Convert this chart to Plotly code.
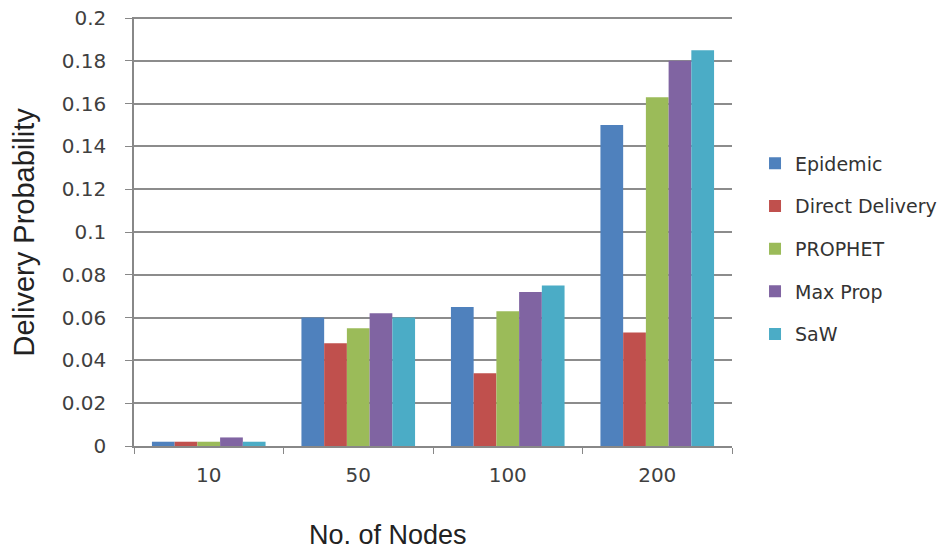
import plotly.graph_objects as go

categories = ["10", "50", "100", "200"]
series_names = ["Epidemic", "Direct Delivery", "PROPHET", "Max Prop", "SaW"]
epidemic = [0.002, 0.060, 0.065, 0.150]
direct_delivery = [0.002, 0.048, 0.034, 0.053]
prophet = [0.002, 0.055, 0.063, 0.163]
max_prop = [0.004, 0.062, 0.072, 0.180]
saw = [0.002, 0.060, 0.075, 0.185]
y_ticks = [0, 0.02, 0.04, 0.06, 0.08, 0.1, 0.12, 0.14, 0.16, 0.18, 0.2]
y_tick_labels = ["0", "0.02", "0.04", "0.06", "0.08", "0.1", "0.12", "0.14", "0.16", "0.18", "0.2"]

colors = ["#4F81BD", "#C0504D", "#9BBB59", "#8064A2", "#4BACC6"]
values = [epidemic, direct_delivery, prophet, max_prop, saw]

fig = go.Figure()
for i, (name, vals) in enumerate(zip(series_names, values)):
    fig.add_trace(go.Bar(
        x=categories, y=vals, name=name,
        marker=dict(color=colors[i], line=dict(width=0)),
        legendgroup=f"g{i}",
    ))

fig.update_layout(
    width=952, height=552,
    margin=dict(l=126, r=228, t=9, b=114, autoexpand=False),
    paper_bgcolor="white", plot_bgcolor="white",
    barmode="group", bargap=0.24, bargroupgap=0,
    font=dict(family="DejaVu Sans", color="#404040"),
    showlegend=True,
    legend=dict(
        x=1.0385, y=0.703, xanchor="left", yanchor="top",
        font=dict(family="DejaVu Sans", size=19, color="#333333"),
        tracegroupgap=15, itemwidth=30,
        bgcolor="rgba(0,0,0,0)",
    ),
    xaxis=dict(
        type="category", automargin=False,
        tickfont=dict(family="DejaVu Sans", size=20, color="#404040"),
        ticks="outside", tickson="boundaries", ticklen=6, tickcolor="#888888",
        ticklabelstandoff=10,
        showline=True, linecolor="#888888", linewidth=1.5,
    ),
    yaxis=dict(
        range=[0, 0.2005], automargin=False,
        tickvals=y_ticks, ticktext=y_tick_labels,
        tickfont=dict(family="DejaVu Sans", size=20, color="#404040"),
        ticks="outside", ticklen=7, tickcolor="#888888",
        ticklabelstandoff=15, ticklabeloverflow="allow",
        showgrid=True, gridcolor="#8c8c8c", gridwidth=1.6,
        showline=True, linecolor="#888888", linewidth=1.5,
        zeroline=False,
    ),
    annotations=[
        dict(text="No. of Nodes", xref="paper", yref="paper", x=0.4247, y=-0.208,
             xanchor="center", yanchor="middle", showarrow=False,
             font=dict(family="Liberation Sans", size=27, color="#222222")),
        dict(text="Delivery Probability", xref="paper", yref="paper", x=-0.184, y=0.5,
             xanchor="center", yanchor="middle", textangle=-90, showarrow=False,
             font=dict(family="Liberation Sans", size=29, color="#222222")),
    ],
)

fig.write_html("out.html")
